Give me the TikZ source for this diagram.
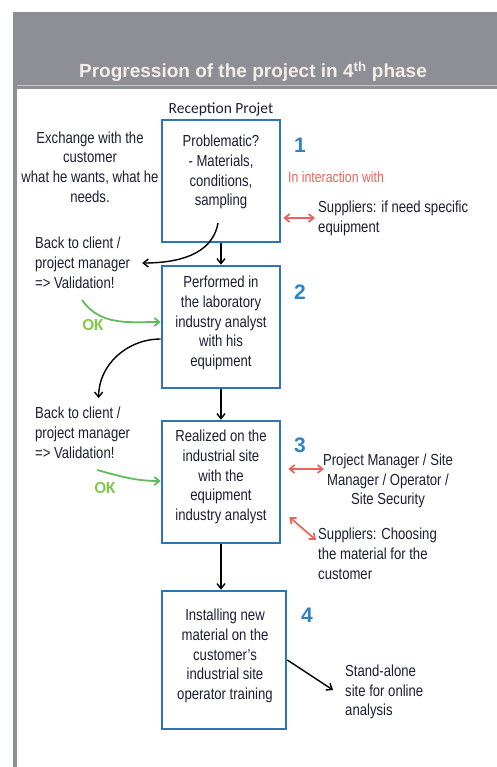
\documentclass[tikz,border=0pt]{standalone}
\usepackage{fontspec}
\setmainfont{Liberation Sans}[FakeStretch=0.82]
\newfontfamily\titlefont{Liberation Sans}
\newfontfamily\calibrifont{Carlito}
\usetikzlibrary{arrows.meta,positioning}
\definecolor{PhaseGray}{HTML}{8E8F94}
\definecolor{PhaseRule}{HTML}{E9B9A2}
\definecolor{PhaseTitle}{HTML}{F3EEE8}
\definecolor{StageBlue}{HTML}{2E75B6}
\definecolor{StageNum}{HTML}{2F82C8}
\definecolor{NoteInk}{HTML}{1A1E30}
\definecolor{LinkRed}{HTML}{E8645A}
\definecolor{OkGreen}{HTML}{62BC5E}

\begin{document}
\begin{tikzpicture}[
        x=1pt, y=1pt,
        stage/.style={draw=StageBlue, line width=2.6pt, minimum width=118pt,
          minimum height=122pt, inner sep=0pt},
        stagetext/.style={align=center, text=NoteInk, inner sep=1pt,
          font=\fontsize{16}{19.8}\selectfont},
        note/.style={text=NoteInk, inner sep=1pt, font=\fontsize{16}{19.8}\selectfont},
        num/.style={text=StageNum, font=\titlefont\bfseries\fontsize{21}{24}\selectfont},
        okmark/.style={text=OkGreen!80!yellow, font=\calibrifont\bfseries\fontsize{17}{20}\selectfont},
        flow/.style={-{Straight Barb[length=5pt,width=8pt]}, line width=1.4pt, draw=black},
        okarrow/.style={-{Straight Barb[length=5pt,width=8pt]}, line width=1.8pt, draw=OkGreen},
        link/.style={{Straight Barb[length=5pt,width=8pt]}-{Straight Barb[length=5pt,width=8pt]},
          line width=1.7pt, draw=LinkRed}
      ]
        \useasboundingbox (0,0) rectangle (497,-767);
        % frame and title band
        \fill[PhaseGray] (13,-12) rectangle (497,-89);
        \fill[PhaseGray] (13,-12) rectangle (17,-767);
        \draw[PhaseRule, line width=1pt] (17,-86) -- (497,-86);
        \node[text=PhaseTitle, font=\titlefont\bfseries\fontsize{19}{22}\selectfont] (title)
          at (253,-72) {Progression of the project in 4\textsuperscript{th} phase};
        \node[text=NoteInk, font=\calibrifont\fontsize{15.5}{18}\selectfont] (recep)
          at (221,-109) {Reception Projet};

        % the four stages
        \node[stage] (b1) at (221,-181) {};
        \node[stage] (b2) at (221,-327) {};
        \node[stage] (b3) at (221,-482) {};
        \node[stage, minimum width=124pt, minimum height=138pt] (b4) at (224,-660) {};
        \node[stagetext] (b1t) at (221,-172) {Problematic?\\- Materials,\\conditions,\\sampling};
        \node[stagetext] (b2t) at (221,-323) {Performed in\\the laboratory\\industry analyst\\with his\\equipment};
        \node[stagetext] (b3t) at (221,-477) {Realized on the\\industrial site\\with the\\equipment\\industry analyst};
        \node[stagetext] (b4t) at (225,-656) {Installing new\\material on the\\customer's\\industrial site\\operator training};
        \node[num] (n1) at (300,-145) {1};
        \node[num] (n2) at (300,-292) {2};
        \node[num] (n3) at (300,-445) {3};
        \node[num] (n4) at (307,-615) {4};

        % notes round the stages
        \node[note, align=center] (exch) at (90,-167) {Exchange with the\\customer\\what he wants, what he\\needs.};
        \node[note, align=left, anchor=west] (bc1) at (34,-263) {Back to client /\\project manager\\=> Validation!};
        \node[note, align=left, anchor=west] (bc2) at (34,-433) {Back to client /\\project manager\\=> Validation!};
        \node[okmark] (ok1) at (93,-325) {OK};
        \node[okmark] (ok2) at (105,-488) {OK};
        \node[text=LinkRed, inner sep=1pt, anchor=west, font=\fontsize{15}{18}\selectfont] (intr)
          at (287,-177) {In interaction with};
        \node[note, align=left, anchor=west] (supp1) at (317,-218) {Suppliers: if need specific\\equipment};
        \node[note, align=center] (pm) at (388,-481) {Project Manager / Site\\Manager / Operator /\\Site Security};
        \node[note, align=left, anchor=west] (supp2) at (317,-554) {Suppliers: Choosing\\the material for the\\customer};
        \node[note, align=left, anchor=west] (alone) at (344,-692) {Stand-alone\\site for online\\analysis};
        \coordinate (g1) at (82,-300);
        \coordinate (g2) at (97,-470);

        % connectors
        \draw[flow] (b1.south) -- (b2.north);
        \draw[flow] (b2.south) -- (b3.north);
        \draw[flow] (b3.south) -- (b3.south |- b4.north);
        \draw[flow] ([shift={(-3,-42)}]b1.center) to[out=-100,in=0] ([xshift=11pt]bc1.east);
        \draw[flow] ([yshift=-12pt]b2.west) to[out=180,in=90] ([shift={(16,8)}]bc2.north);
        \draw[okarrow] (g1) to[out=-55,in=180] ([yshift=5pt]b2.west);
        \draw[okarrow] (g2) to[out=-15,in=180] ([yshift=1pt]b3.west);
        \draw[link] ([shift={(2,-37)}]b1.east) -- ([xshift=-2pt]supp1.west);
        \draw[link] ([shift={(7,13)}]b3.east) -- ([shift={(2,12)}]pm.west);
        \draw[link] ([shift={(8,-35)}]b3.east) -- ([shift={(-1,14)}]supp2.west);
        \draw[flow] (b4.east) -- ([shift={(-11,2)}]alone.west);
      \end{tikzpicture}
\end{document}
